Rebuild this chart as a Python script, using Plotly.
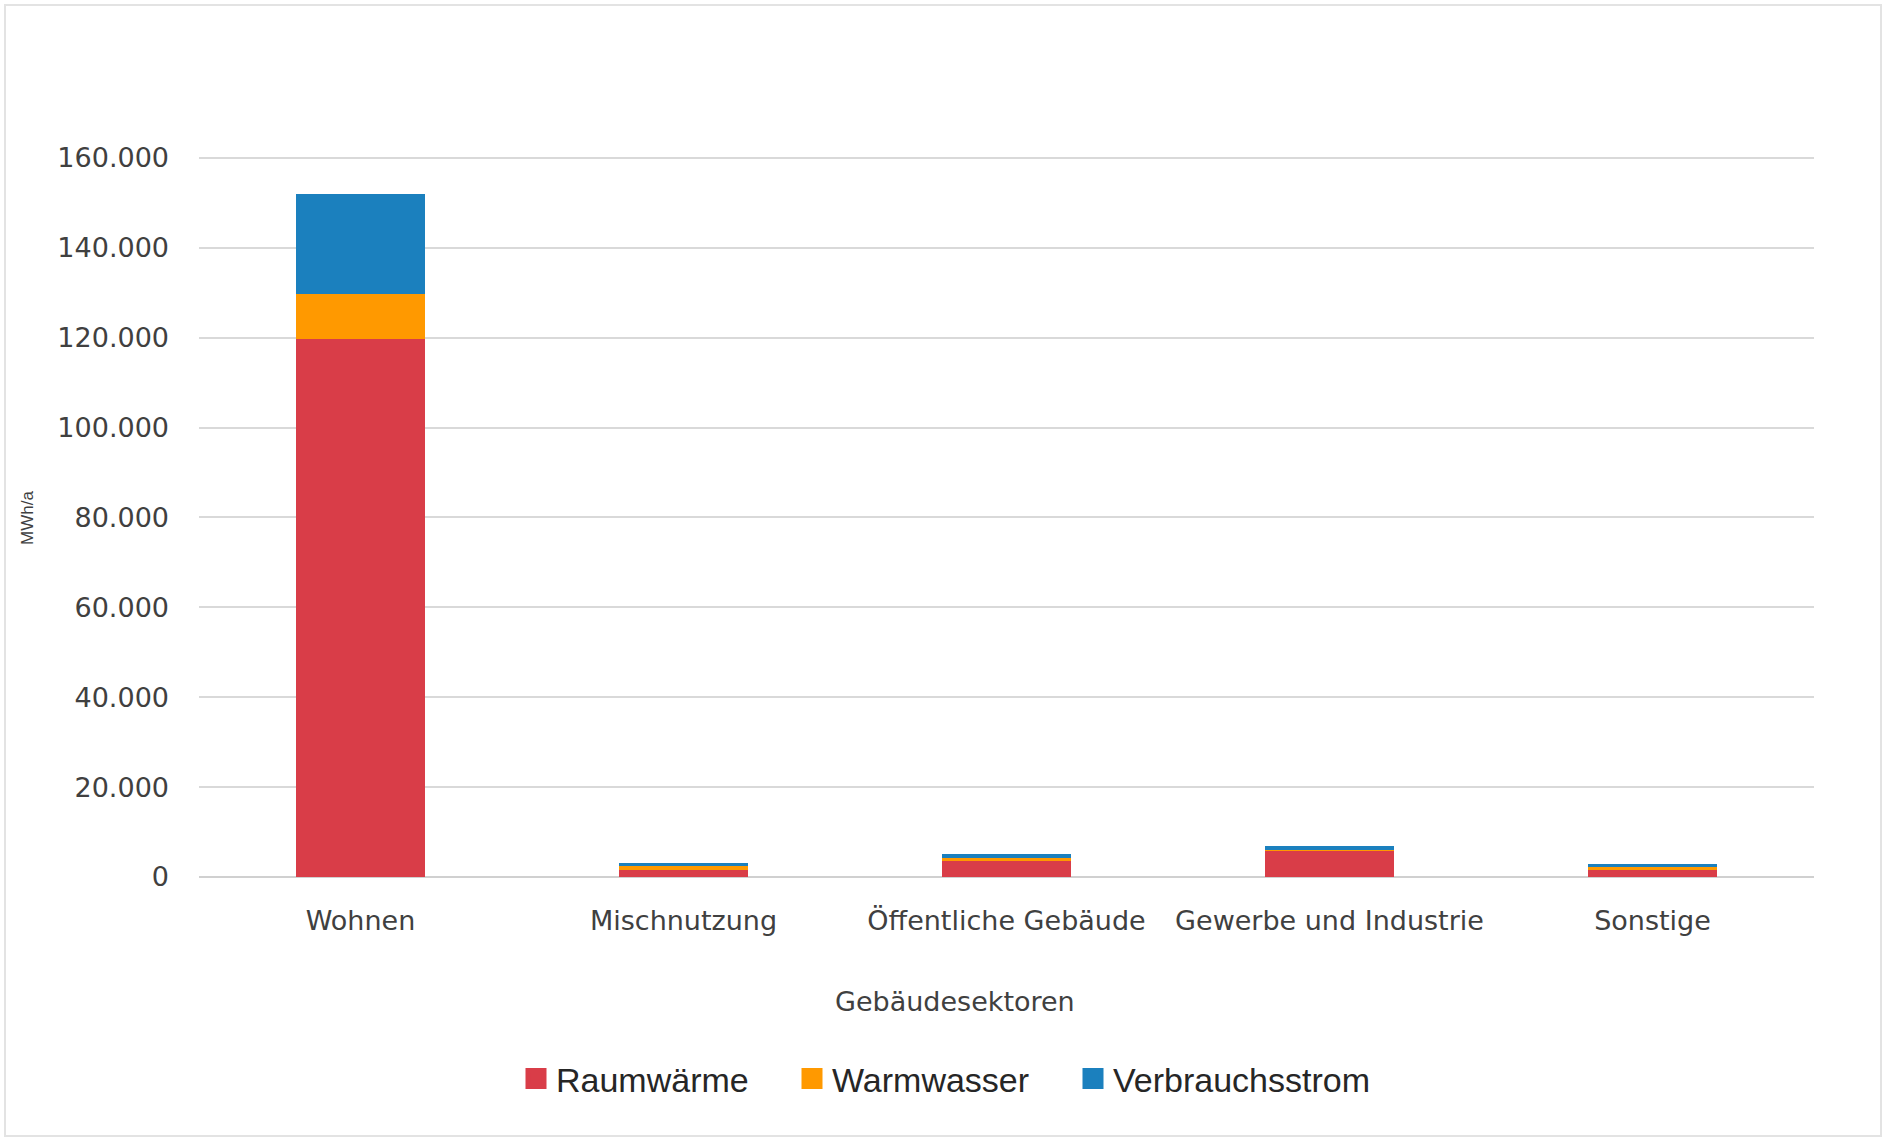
import plotly.graph_objects as go

# Energy demand per building sector, MWh/a
sectors = ["Wohnen", "Mischnutzung", "Öffentliche Gebäude", "Gewerbe und Industrie", "Sonstige"]
raumwaerme = [119600, 1600, 3600, 5900, 1500]
warmwasser = [10100, 750, 700, 150, 800]
verbrauchsstrom = [22300, 700, 800, 750, 700]

y_ticks = [0, 20000, 40000, 60000, 80000, 100000, 120000, 140000, 160000]
y_tick_text = ["0", "20.000", "40.000", "60.000", "80.000", "100.000", "120.000", "140.000", "160.000"]

series = [
    ("Raumwärme", raumwaerme, "#D93D48"),
    ("Warmwasser", warmwasser, "#FF9900"),
    ("Verbrauchsstrom", verbrauchsstrom, "#1B80BE"),
]

W, H = 1887, 1138
L, R, T, B = 199, 73, 156, 261
plot_w = W - L - R
plot_h = H - T - B
y_max = 160400

def px_x(px):
    return (px - L) / plot_w

def px_y(py):
    return (H - B - py) / plot_h

text_color = "#404040"
tick_font = "DejaVu Sans, Verdana, sans-serif"
legend_font = dict(family="Liberation Sans, Arial, sans-serif", size=34, color="#262626")

fig = go.Figure()
for name, vals, color in series:
    fig.add_trace(go.Bar(
        x=sectors, y=vals, name=name,
        marker=dict(color=color, line=dict(width=0)),
        showlegend=False,
    ))

# One legend per series, laid out in a row under the axis title
legend_left_px = [516, 792, 1073]
legend_keys = ["legend", "legend2", "legend3"]
legend_layout = {}
for (name, vals, color), key, left in zip(series, legend_keys, legend_left_px):
    fig.add_trace(go.Scatter(
        x=[None], y=[None], mode="markers", name=name,
        marker=dict(symbol="square", size=16, color=color,
                    line=dict(color=color, width=5)),
        showlegend=True, legend=key,
    ))
    legend_layout[key] = dict(
        x=px_x(left), xanchor="left",
        y=px_y(1079), yanchor="middle",
        font=legend_font,
        itemwidth=30,
        bgcolor="rgba(0,0,0,0)",
    )

fig.update_layout(
    barmode="stack",
    bargap=0.6,
    width=W, height=H,
    margin=dict(l=L, r=R, t=T, b=B, autoexpand=False),
    paper_bgcolor="white",
    plot_bgcolor="white",
    font=dict(family=tick_font, color=text_color, size=27),
    showlegend=True,
    xaxis=dict(
        showgrid=False,
        showline=False,
        ticks="",
        tickfont=dict(size=27, color=text_color),
        ticklabelstandoff=25,
    ),
    yaxis=dict(
        range=[0, y_max],
        tickvals=y_ticks,
        ticktext=y_tick_text,
        showgrid=True,
        gridcolor="#D9D9D9",
        gridwidth=2,
        zeroline=True,
        zerolinecolor="#D0D0D0",
        zerolinewidth=2,
        showline=False,
        ticks="",
        tickfont=dict(size=27, color=text_color),
        ticklabelstandoff=29,
    ),
    **legend_layout,
)

# Axis titles
fig.add_annotation(
    text="Gebäudesektoren", xref="paper", yref="paper",
    x=px_x(955), y=px_y(1001), xanchor="center", yanchor="middle",
    showarrow=False, font=dict(size=27, color=text_color),
)
fig.add_annotation(
    text="MWh/a", xref="paper", yref="paper",
    x=px_x(27), y=px_y(518), xanchor="center", yanchor="middle",
    textangle=-90, showarrow=False,
    font=dict(family="Liberation Sans, Arial, sans-serif", size=17, color=text_color),
)

# Chart frame
fig.add_shape(
    type="rect", xref="paper", yref="paper",
    x0=px_x(5), x1=px_x(1881), y0=px_y(1136), y1=px_y(5),
    line=dict(color="#E3E3E3", width=2), fillcolor="rgba(0,0,0,0)",
    layer="below",
)

fig.write_html("out.html")
